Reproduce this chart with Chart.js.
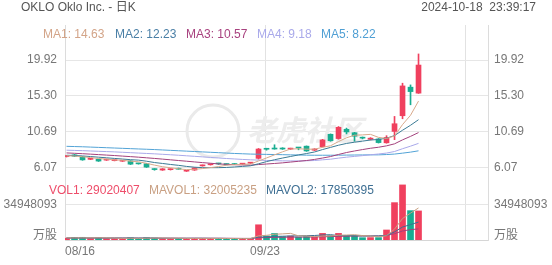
<!DOCTYPE html>
<html><head><meta charset="utf-8">
<script src="https://cdn.jsdelivr.net/npm/chart.js@4/dist/chart.umd.min.js"></script>
<style>
html,body{margin:0;padding:0;background:#fff;}
#wrap{position:relative;width:552px;height:265px;overflow:hidden;font-family:Arial,"Liberation Sans","Noto Sans CJK SC",sans-serif;font-size:12px;}
#c{position:absolute;left:0;top:0;}
.t{position:absolute;white-space:nowrap;line-height:14px;}
</style></head><body>
<div id="wrap">
<canvas id="c" width="552" height="265"></canvas>
<div class="t" style="left:21px;top:0px;color:#555">OKLO Oklo Inc. - 日K</div>
<div class="t" style="right:16px;top:0px;color:#555">2024-10-18&nbsp;&nbsp;23:39:17</div>
</div>
<script>
const dates = ['08/16','08/19','08/20','08/21','08/22','08/23','08/26','08/27','08/28','08/29','08/30','09/03','09/04','09/05','09/06','09/09','09/10','09/11','09/12','09/13','09/16','09/17','09/18','09/19','09/20','09/23','09/24','09/25','09/26','09/27','09/30','10/01','10/02','10/03','10/04','10/07','10/08','10/09','10/10','10/11','10/14','10/15','10/16','10/17','10/18'];
const opens  = [7.48,7.70,7.45,7.12,7.12,7.02,6.95,6.88,6.92,6.58,6.56,5.84,5.74,5.79,5.88,5.60,5.74,6.28,6.42,6.56,6.47,6.47,6.50,6.63,7.25,8.45,8.50,8.58,8.44,8.62,8.82,8.30,8.75,10.35,9.80,11.00,10.55,9.90,9.70,9.75,9.25,10.72,12.74,16.42,15.65];
const closes = [7.52,7.52,7.05,7.18,6.90,7.08,6.99,6.92,6.50,6.54,6.12,5.80,5.90,5.82,5.85,5.63,6.02,6.33,6.46,6.53,6.45,6.45,6.52,6.67,8.45,8.42,8.45,8.45,8.48,8.58,8.20,8.45,9.62,9.52,11.25,10.65,10.10,9.85,9.85,9.28,9.95,11.71,16.58,15.85,19.27];
const highs  = [7.60,7.75,7.50,7.25,7.15,7.15,7.05,6.98,6.95,6.62,6.60,5.92,5.93,5.90,6.00,5.68,6.05,6.40,6.52,6.62,6.53,6.58,6.58,6.74,8.52,8.55,9.00,8.62,8.56,8.63,8.85,8.50,9.70,10.40,11.35,11.15,10.60,10.00,9.92,9.80,10.17,12.65,16.93,16.71,20.70];
const lows   = [7.42,7.48,7.00,7.08,6.85,6.98,6.92,6.85,6.45,6.50,6.08,5.72,5.70,5.74,5.84,5.56,5.70,6.24,6.38,6.46,6.40,6.44,6.45,6.58,7.15,8.30,8.43,8.40,8.38,8.35,8.15,8.25,8.70,9.45,9.72,10.40,9.45,9.75,9.62,9.22,9.20,9.66,12.35,14.15,15.62];

const ma1 = [7.58,7.55,7.45,7.35,7.23,7.15,7.04,7.01,6.88,6.81,6.61,6.38,6.17,6.04,5.90,5.80,5.84,5.93,6.06,6.19,6.36,6.44,6.48,6.52,6.91,7.30,7.70,8.09,8.45,8.48,8.43,8.43,8.67,8.87,9.41,9.90,10.23,10.27,10.34,9.95,9.81,10.13,11.60,12.80,14.63];
const ma2 = [7.65,7.62,7.56,7.48,7.40,7.32,7.24,7.16,7.08,7.02,6.88,6.71,6.59,6.46,6.35,6.21,6.11,6.05,6.05,6.05,6.08,6.14,6.21,6.29,6.55,6.83,7.07,7.29,7.49,7.69,7.87,8.07,8.38,8.66,8.94,9.17,9.33,9.47,9.61,9.68,9.85,10.18,10.87,11.51,12.23];
const ma3 = [7.95,7.90,7.85,7.79,7.73,7.67,7.61,7.54,7.47,7.40,7.32,7.24,7.15,7.06,6.97,6.88,6.79,6.70,6.62,6.53,6.48,6.43,6.40,6.37,6.45,6.52,6.59,6.67,6.77,6.87,6.97,7.11,7.29,7.48,7.75,8.00,8.20,8.38,8.55,8.68,8.86,9.12,9.63,10.08,10.57];
const ma4 = [8.30,8.27,8.24,8.20,8.16,8.12,8.08,8.03,7.98,7.93,7.88,7.83,7.77,7.71,7.65,7.58,7.51,7.44,7.37,7.30,7.23,7.17,7.11,7.06,7.02,6.98,6.95,6.93,6.92,6.92,6.94,6.97,7.06,7.14,7.28,7.40,7.50,7.60,7.71,7.81,7.93,8.13,8.49,8.82,9.18];
const ma5 = [8.80,8.77,8.74,8.70,8.66,8.62,8.58,8.54,8.50,8.46,8.42,8.38,8.33,8.28,8.23,8.18,8.13,8.08,8.03,7.98,7.93,7.88,7.84,7.80,7.78,7.76,7.74,7.72,7.70,7.68,7.66,7.65,7.65,7.65,7.66,7.67,7.68,7.69,7.70,7.70,7.74,7.80,7.92,8.05,8.22];

const volumes = [1.8e6,2.6e6,2.7e6,1.6e6,2.2e6,1.5e6,1.4e6,1.3e6,2.3e6,1.6e6,2.4e6,1.9e6,1.5e6,1.4e6,1.6e6,1.5e6,1.7e6,1.6e6,1.4e6,1.5e6,1.3e6,1.4e6,1.3e6,1.5e6,15.2e6,4.0e6,6.5e6,3.4e6,4.0e6,2.8e6,3.5e6,2.8e6,6.6e6,4.4e6,6.6e6,4.4e6,4.4e6,2.3e6,2.4e6,2.4e6,10.0e6,37.3e6,55.0e6,29.3e6,29020407];
const mavol1 = [2.10e6,2.10e6,2.15e6,2.10e6,2.18e6,2.12e6,1.88e6,1.60e6,1.74e6,1.62e6,1.80e6,1.90e6,1.94e6,1.76e6,1.76e6,1.58e6,1.54e6,1.56e6,1.56e6,1.54e6,1.50e6,1.44e6,1.38e6,1.40e6,4.14e6,4.68e6,5.70e6,6.12e6,6.62e6,4.14e6,4.04e6,3.30e6,3.94e6,4.02e6,4.78e6,4.96e6,5.28e6,4.42e6,4.02e6,3.18e6,4.30e6,10.88e6,21.42e6,26.80e6,32005235];
const mavol2 = [2.00e6,2.00e6,2.05e6,2.05e6,2.00e6,1.98e6,1.95e6,1.92e6,1.92e6,1.90e6,1.96e6,1.89e6,1.77e6,1.75e6,1.69e6,1.69e6,1.72e6,1.75e6,1.66e6,1.65e6,1.54e6,1.49e6,1.47e6,1.48e6,2.84e6,3.09e6,3.57e6,3.75e6,4.01e6,4.14e6,4.36e6,4.50e6,5.03e6,5.32e6,4.46e6,4.50e6,4.29e6,4.18e6,4.02e6,3.98e6,4.63e6,8.08e6,12.92e6,15.41e6,17850395];
const mavol3 = [2.00e6,2.00e6,2.00e6,1.98e6,1.97e6,1.96e6,1.95e6,1.94e6,1.93e6,1.92e6,1.90e6,1.88e6,1.86e6,1.85e6,1.84e6,1.82e6,1.81e6,1.80e6,1.79e6,1.78e6,1.75e6,1.69e6,1.62e6,1.62e6,2.27e6,2.39e6,2.65e6,2.75e6,2.84e6,2.90e6,2.95e6,3.00e6,3.25e6,3.40e6,3.65e6,3.80e6,3.93e6,3.97e6,4.02e6,4.06e6,4.50e6,6.29e6,8.98e6,10.37e6,11.06e6];

const priceTicks = [6.07, 10.69, 15.30, 19.92];
const volTicks = [34948093];
const volUnit = '万股';
const dateTickIdx = [0, 25, 50];

const FONT = 'Arial, "Liberation Sans", "Noto Sans CJK SC", sans-serif';
const UP = '#f0405e', DOWN = '#19ad91';
const C_MA = ['#d8a98b','#3b7b95','#a3417c','#a9a9ea','#52a3d6'];
const C_VOL = ['#ee4d6a','#c9a083','#3e6f93','#a3417c'];
const SLOT = 0.19;      // gridlines sit slightly left of candle centres
const UNIT_POS = 4.0e6; // where the unit label sits on the volume axis

const dirCol = opens.map((o, i) => closes[i] >= o ? UP : DOWN);
const xy = arr => arr.map((v, i) => ({x: i, y: v}));

const wrap = document.getElementById('wrap');
function addText(txt, left, top, color) {
  const d = document.createElement('div');
  d.className = 't'; d.textContent = txt;
  d.style.left = left + 'px'; d.style.top = top + 'px'; d.style.color = color;
  wrap.appendChild(d);
}
const maLast = [ma1, ma2, ma3, ma4, ma5].map(a => a[a.length - 1].toFixed(2));
const maX = [43, 115, 186, 257, 321];
const maTxt = ['#d3a488','#4a7fa6','#a8427f','#a9a9ea','#4f9fd4'];
maLast.forEach((v, k) => addText('MA' + (k + 1) + ': ' + v, maX[k], 27, maTxt[k]));
const volLeg = [['VOL1', volumes], ['MAVOL1', mavol1], ['MAVOL2', mavol2]];
const volX = [49, 149, 266];
volLeg.forEach(([n, a], k) => addText(n + ': ' + Math.round(a[a.length - 1]), volX[k], 183, C_VOL[k]));

const watermark = {
  id: 'wm',
  beforeDatasetsDraw(chart) {
    const ctx = chart.ctx;
    ctx.save();
    ctx.strokeStyle = '#eaeaea'; ctx.lineWidth = 3;
    ctx.beginPath(); ctx.arc(213, 131, 26, 0, Math.PI * 2); ctx.stroke();
    ctx.fillStyle = '#ededed';
    ctx.font = 'italic bold 29px "Noto Sans CJK SC", sans-serif';
    ctx.textBaseline = 'middle';
    ctx.fillText('老虎社区', 247, 130);
    ctx.restore();
  }
};

const gridCol = '#e6e6e6';
const tickFont = {family: FONT, size: 12};
function yAxis(pos, stackW, min, max, ticksFn, labelFn, isGrid, gridFn) {
  return {
    type: 'linear', position: pos, stack: pos, stackWeight: stackW, min, max,
    afterBuildTicks: s => { s.ticks = ticksFn().map(v => ({value: v})); },
    afterFit: s => { s.width = pos === 'left' ? 65 : 64; },
    ticks: {callback: labelFn, color: '#777', font: tickFont, padding: pos === 'left' ? 8 : 6, autoSkip: false},
    grid: {display: isGrid, drawTicks: false, color: gridFn || gridCol},
    border: {display: true, color: '#dcdcdc'}
  };
}
const pMin = 4.46, pMax = 24.43, vMax = 59.9e6;
const priceLabel = v => Number(v).toFixed(2);
const volLabel = v => volTicks.includes(v) ? String(v) : volUnit;
const volGrid = c => (c.tick && volTicks.includes(c.tick.value)) ? gridCol : 'rgba(0,0,0,0)';

new Chart(document.getElementById('c'), {
  type: 'bar',
  data: {
    datasets: [
      {type: 'line', data: xy(ma1), yAxisID: 'y', borderColor: C_MA[0], borderWidth: 1, pointRadius: 0, order: 1},
      {type: 'line', data: xy(ma2), yAxisID: 'y', borderColor: C_MA[1], borderWidth: 1, pointRadius: 0, order: 1},
      {type: 'line', data: xy(ma3), yAxisID: 'y', borderColor: C_MA[2], borderWidth: 1, pointRadius: 0, order: 1},
      {type: 'line', data: xy(ma4), yAxisID: 'y', borderColor: C_MA[3], borderWidth: 1, pointRadius: 0, order: 1},
      {type: 'line', data: xy(ma5), yAxisID: 'y', borderColor: C_MA[4], borderWidth: 1, pointRadius: 0, order: 1},
      {data: lows.map((l, i) => ({x: i, y: [l, highs[i]]})), yAxisID: 'y', backgroundColor: dirCol, barThickness: 1, grouped: false, order: 3},
      {data: opens.map((o, i) => ({x: i, y: [o, closes[i]]})), yAxisID: 'y', backgroundColor: dirCol, barThickness: 5, minBarLength: 1, grouped: false, order: 2},
      {data: volumes.map((v, i) => ({x: i, y: v})), yAxisID: 'yv', backgroundColor: dirCol, barThickness: 6, grouped: false, order: 3},
      {type: 'line', data: xy(mavol1), yAxisID: 'yv', borderColor: C_VOL[1], borderWidth: 1, pointRadius: 0, order: 1},
      {type: 'line', data: xy(mavol2), yAxisID: 'yv', borderColor: C_VOL[2], borderWidth: 1, pointRadius: 0, order: 1},
      {type: 'line', data: xy(mavol3), yAxisID: 'yv', borderColor: C_VOL[3], borderWidth: 1, pointRadius: 0, order: 1}
    ]
  },
  options: {
    responsive: false, animation: false, devicePixelRatio: 1,
    layout: {padding: {top: 25, left: 0, right: 0, bottom: 0}},
    plugins: {legend: {display: false}, tooltip: {enabled: false}},
    scales: {
      x: {
        type: 'linear', offset: false, min: -SLOT, max: -SLOT + 52.875,
        afterBuildTicks: s => { s.ticks = dateTickIdx.map(i => ({value: i - SLOT})); },
        afterFit: s => { s.height = 25; },
        ticks: {callback: v => dates[Math.round(v)] || '', color: '#777', font: tickFont, padding: 4, align: 'inner', maxRotation: 0, autoSkip: false},
        grid: {color: '#e2e2e2', drawTicks: false, offset: false},
        border: {display: true, color: '#d6d6d6'}
      },
      yv: yAxis('left', 60, 0, vMax, () => [UNIT_POS, ...volTicks], volLabel, true, volGrid),
      y: yAxis('left', 155, pMin, pMax, () => priceTicks, priceLabel, true),
      y2: yAxis('right', 155, pMin, pMax, () => priceTicks, priceLabel, false),
      yv2: yAxis('right', 60, 0, vMax, () => [UNIT_POS, ...volTicks], volLabel, false)
    }
  },
  plugins: [watermark]
});
</script>
</body></html>
